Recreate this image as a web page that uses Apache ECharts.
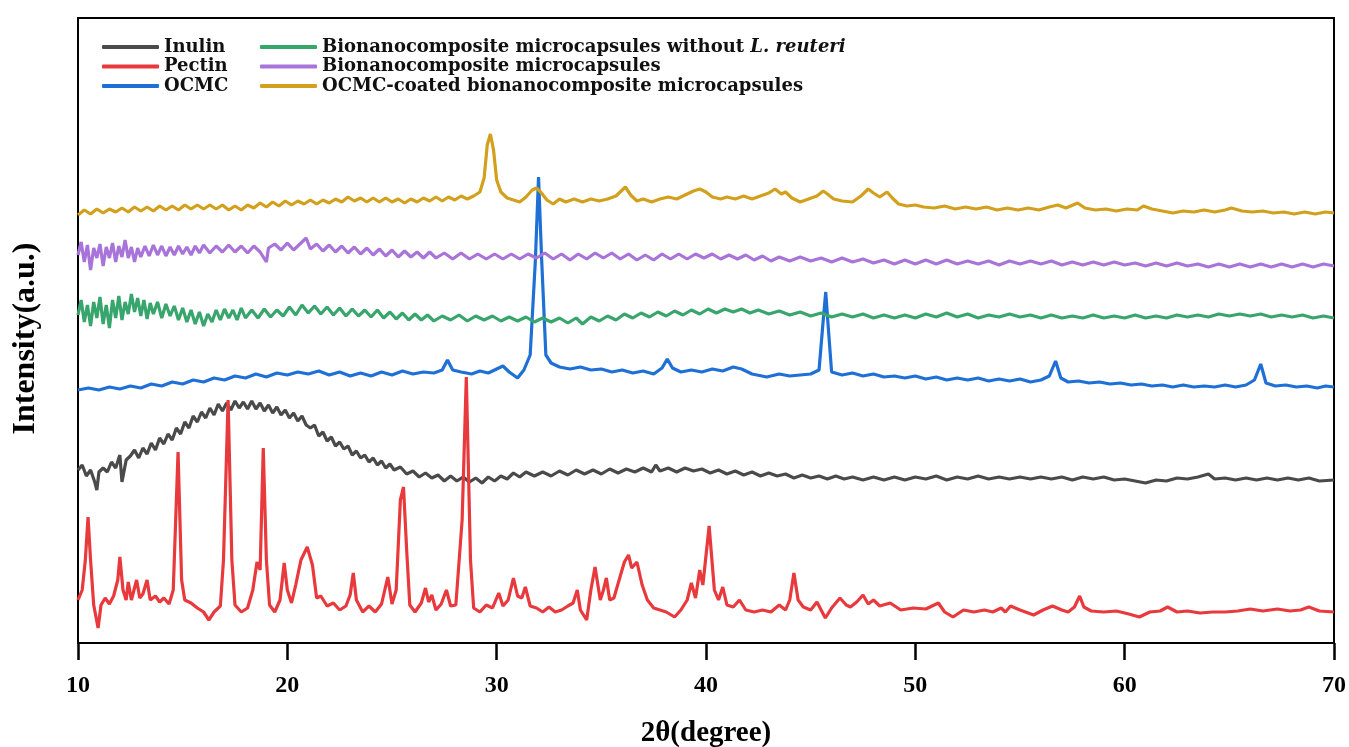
<!DOCTYPE html>
<html>
<head>
<meta charset="utf-8">
<title>XRD patterns</title>
<script src="https://cdn.jsdelivr.net/npm/echarts@6/dist/echarts.min.js"></script>
<style>
  html, body { margin: 0; padding: 0; background: #fff; }
  #main { width: 1349px; height: 747px; }
</style>
</head>
<body>
<div id="main"></div>
<script>
// x ticks (2θ, degree)
var xTicks = [10, 20, 30, 40, 50, 60, 70];

var seriesNames = ['Inulin', 'Pectin', 'OCMC',
  'Bionanocomposite microcapsules without L. reuteri',
  'Bionanocomposite microcapsules',
  'OCMC-coated bionanocomposite microcapsules'];

// intensities (a.u., stacked offsets)
var inulin = [[10.0,173],[10.2,178],[10.4,167],[10.6,173],[10.8,161],[10.9,153],[11.0,171],[11.2,175],[11.4,171],[11.6,181],[11.8,175],[12.0,188],[12.1,161],[12.3,183],[12.5,187],[12.7,193],[12.9,185],[13.1,195],[13.3,189],[13.5,200],[13.7,193],[13.9,205],[14.1,199],[14.3,209],[14.5,203],[14.7,215],[14.9,209],[15.1,221],[15.3,215],[15.5,227],[15.7,221],[15.9,231],[16.1,225],[16.3,235],[16.5,228],[16.7,239],[16.9,232],[17.1,240],[17.3,233],[17.5,242],[17.7,235],[17.9,241],[18.1,234],[18.3,242],[18.5,234],[18.7,240],[18.9,232],[19.1,238],[19.3,230],[19.5,236],[19.7,228],[19.9,233],[20.1,225],[20.3,230],[20.5,222],[20.7,227],[20.9,218],[21.1,215],[21.3,218],[21.5,207],[21.7,211],[21.9,202],[22.1,206],[22.3,197],[22.5,201],[22.7,194],[22.9,197],[23.1,188],[23.3,192],[23.5,185],[23.7,188],[23.9,181],[24.1,185],[24.3,178],[24.5,182],[24.7,175],[24.9,179],[25.1,173],[25.4,176],[25.7,169],[26.0,172],[26.3,166],[26.6,170],[26.9,165],[27.2,168],[27.5,162],[27.8,167],[28.1,162],[28.4,166],[28.7,161],[29.0,165],[29.3,160],[29.6,166],[29.9,162],[30.2,167],[30.5,164],[30.8,170],[31.1,166],[31.4,171],[31.8,167],[32.2,171],[32.6,167],[33.0,172],[33.4,168],[33.8,173],[34.2,169],[34.6,173],[35.0,169],[35.4,174],[35.8,170],[36.2,174],[36.6,171],[37.0,175],[37.4,171],[37.6,178],[37.8,172],[38.2,175],[38.6,171],[39.0,175],[39.4,172],[39.8,174],[40.2,170],[40.6,173],[41.0,169],[41.4,172],[41.8,168],[42.2,171],[42.6,167],[43.0,170],[43.4,167],[43.8,169],[44.2,165],[44.6,168],[45.0,165],[45.4,167],[45.8,164],[46.2,167],[46.6,164],[47.0,166],[47.5,163],[48.0,166],[48.5,163],[49.0,166],[49.5,163],[50.0,166],[50.5,164],[51.0,167],[51.5,163],[52.0,166],[52.5,164],[53.0,167],[53.5,164],[54.0,166],[54.5,164],[55.0,166],[55.5,164],[56.0,166],[56.5,164],[57.0,166],[57.5,163],[58.0,166],[58.5,164],[59.0,166],[59.5,163],[60.0,164],[60.5,162],[61.0,160],[61.5,163],[62.0,162],[62.5,165],[63.0,164],[63.5,166],[64.0,169],[64.3,164],[64.8,165],[65.3,163],[65.8,165],[66.3,163],[66.8,165],[67.3,163],[67.8,165],[68.3,163],[68.8,165],[69.3,162],[70.0,163]];

var pectin = [[10.0,43],[10.2,53],[10.35,83],[10.48,126],[10.6,83],[10.75,38],[10.96,15],[11.1,38],[11.3,45],[11.5,39],[11.7,47],[11.9,63],[12.0,86],[12.15,53],[12.3,43],[12.4,61],[12.55,43],[12.8,63],[12.95,45],[13.1,49],[13.3,63],[13.45,43],[13.7,47],[13.9,41],[14.1,45],[14.35,39],[14.55,53],[14.78,191],[14.95,63],[15.1,43],[15.4,40],[15.7,35],[16.0,31],[16.25,23],[16.5,31],[16.8,37],[16.95,83],[17.17,243],[17.35,83],[17.5,38],[17.8,31],[18.1,35],[18.35,53],[18.55,81],[18.7,73],[18.85,195],[19.0,83],[19.15,38],[19.4,31],[19.65,43],[19.85,80],[20.0,53],[20.2,40],[20.4,58],[20.65,83],[20.95,96],[21.2,78],[21.4,45],[21.6,47],[21.9,37],[22.2,40],[22.5,33],[22.8,37],[23.0,48],[23.15,70],[23.3,43],[23.6,31],[23.9,37],[24.2,31],[24.5,39],[24.8,66],[25.0,39],[25.2,53],[25.4,143],[25.55,156],[25.7,93],[25.85,38],[26.1,31],[26.4,40],[26.6,55],[26.75,41],[26.9,48],[27.1,33],[27.35,39],[27.6,53],[27.8,37],[28.05,38],[28.35,123],[28.55,266],[28.75,83],[28.9,35],[29.2,31],[29.5,38],[29.8,35],[30.1,50],[30.3,37],[30.55,43],[30.8,65],[31.0,47],[31.2,45],[31.37,56],[31.6,37],[31.9,35],[32.2,31],[32.5,36],[32.8,31],[33.1,33],[33.4,37],[33.65,40],[33.85,53],[34.0,33],[34.3,23],[34.5,53],[34.7,76],[34.95,43],[35.1,53],[35.24,65],[35.4,43],[35.6,45],[35.85,63],[36.1,81],[36.3,88],[36.45,75],[36.7,81],[36.95,58],[37.2,43],[37.5,35],[37.8,33],[38.1,31],[38.5,26],[38.8,33],[39.1,43],[39.3,60],[39.5,45],[39.7,73],[39.85,58],[40.15,117],[40.4,53],[40.6,43],[40.8,56],[41.0,38],[41.3,36],[41.6,43],[41.9,33],[42.3,31],[42.7,33],[43.1,31],[43.5,38],[43.8,33],[44.0,43],[44.2,70],[44.4,43],[44.65,36],[45.0,33],[45.3,41],[45.5,33],[45.7,25],[46.0,35],[46.4,45],[46.7,38],[46.9,36],[47.2,41],[47.5,48],[47.75,39],[48.0,43],[48.3,37],[48.8,40],[49.3,33],[49.9,35],[50.5,34],[51.1,40],[51.4,31],[51.8,26],[52.3,33],[52.8,31],[53.3,33],[53.7,31],[54.1,35],[54.3,31],[54.55,37],[55.0,33],[55.65,28],[56.1,33],[56.55,37],[57.0,33],[57.3,31],[57.6,36],[57.85,47],[58.05,36],[58.4,32],[59.0,31],[59.6,32],[60.2,29],[60.7,26],[61.2,31],[61.7,32],[62.05,36],[62.5,31],[63.0,32],[63.6,30],[64.2,31],[64.8,31],[65.4,32],[66.0,34],[66.6,32],[67.3,34],[67.9,32],[68.4,33],[68.8,36],[69.3,32],[70.0,31]];

var ocmc = [[10.0,253],[10.5,255],[11.0,253],[11.5,256],[12.0,254],[12.5,257],[13.0,255],[13.5,259],[14.0,257],[14.5,261],[15.0,259],[15.5,263],[16.0,261],[16.5,265],[17.0,263],[17.5,267],[18.0,265],[18.5,269],[19.0,266],[19.5,270],[20.0,268],[20.5,271],[21.0,269],[21.5,272],[22.0,268],[22.5,271],[23.0,267],[23.5,270],[24.0,267],[24.5,271],[25.0,268],[25.5,272],[26.0,269],[26.5,271],[27.0,270],[27.4,273],[27.65,283],[27.9,273],[28.3,271],[28.8,269],[29.2,272],[29.6,270],[30.0,274],[30.3,277],[30.6,271],[31.0,265],[31.3,273],[31.6,288],[31.85,383],[32.0,466],[32.15,383],[32.35,288],[32.6,280],[33.0,276],[33.5,274],[34.0,276],[34.5,273],[35.0,274],[35.5,271],[36.0,273],[36.5,270],[37.0,272],[37.5,269],[37.9,275],[38.15,284],[38.4,275],[38.8,271],[39.3,273],[39.8,271],[40.3,274],[40.8,272],[41.3,276],[41.7,274],[42.2,269],[42.9,266],[43.5,269],[44.0,267],[44.5,268],[45.0,269],[45.4,273],[45.6,323],[45.72,351],[45.85,313],[46.0,271],[46.5,268],[47.0,270],[47.5,267],[48.0,269],[48.5,266],[49.0,267],[49.5,265],[50.0,267],[50.5,264],[51.0,266],[51.5,263],[52.0,265],[52.5,263],[53.0,265],[53.5,262],[54.0,264],[54.5,262],[55.0,264],[55.5,261],[56.0,263],[56.4,267],[56.7,282],[56.95,265],[57.3,261],[57.8,262],[58.3,260],[58.8,261],[59.3,259],[59.8,260],[60.3,258],[60.8,259],[61.3,257],[61.8,258],[62.3,256],[62.8,258],[63.3,256],[63.8,257],[64.3,256],[64.8,258],[65.3,256],[65.8,258],[66.2,263],[66.5,279],[66.75,260],[67.2,257],[67.7,258],[68.2,256],[68.7,257],[69.2,255],[69.6,257],[70.0,256]];

var bncNoLr = [[10.0,328],[10.15,343],[10.3,321],[10.45,338],[10.6,317],[10.75,341],[10.9,325],[11.05,346],[11.2,319],[11.35,338],[11.5,315],[11.65,343],[11.8,325],[11.95,347],[12.1,323],[12.25,341],[12.4,329],[12.55,349],[12.7,331],[12.85,345],[13.0,327],[13.15,343],[13.3,324],[13.45,340],[13.6,329],[13.8,341],[14.0,325],[14.2,339],[14.4,327],[14.6,337],[14.8,323],[15.0,335],[15.2,321],[15.4,333],[15.6,319],[15.8,331],[16.0,317],[16.2,329],[16.4,321],[16.6,333],[16.8,323],[17.0,334],[17.2,325],[17.4,333],[17.6,323],[17.8,335],[18.0,325],[18.3,333],[18.6,325],[18.9,334],[19.2,326],[19.5,333],[19.8,327],[20.1,336],[20.4,328],[20.7,338],[21.0,330],[21.3,337],[21.6,329],[21.9,336],[22.2,328],[22.5,335],[22.8,327],[23.1,334],[23.4,327],[23.7,333],[24.0,326],[24.3,333],[24.6,325],[24.9,331],[25.2,324],[25.5,330],[25.8,323],[26.1,329],[26.4,323],[26.7,328],[27.0,322],[27.4,327],[27.8,323],[28.2,328],[28.6,322],[29.0,327],[29.4,323],[29.8,327],[30.2,322],[30.6,326],[31.0,322],[31.4,326],[31.8,321],[32.2,325],[32.6,321],[33.0,325],[33.4,320],[33.8,325],[34.1,319],[34.5,326],[34.9,322],[35.3,327],[35.7,323],[36.1,329],[36.5,325],[36.9,330],[37.3,326],[37.7,331],[38.1,327],[38.5,332],[38.9,328],[39.3,333],[39.7,329],[40.1,334],[40.5,330],[40.9,334],[41.3,331],[41.7,334],[42.1,330],[42.5,333],[43.0,329],[43.5,332],[44.0,328],[44.5,331],[45.0,327],[45.5,330],[46.0,326],[46.5,329],[47.0,326],[47.5,329],[48.0,325],[48.5,328],[49.0,325],[49.5,328],[50.0,325],[50.5,329],[51.0,326],[51.5,330],[52.0,326],[52.5,329],[53.0,325],[53.5,328],[54.0,326],[54.5,329],[55.0,326],[55.5,328],[56.0,325],[56.5,328],[57.0,325],[57.5,327],[58.0,325],[58.5,328],[59.0,325],[59.5,327],[60.0,325],[60.5,328],[61.0,325],[61.5,327],[62.0,325],[62.5,328],[63.0,326],[63.5,328],[64.0,326],[64.5,329],[65.0,327],[65.5,329],[66.0,327],[66.5,329],[67.0,326],[67.5,328],[68.0,326],[68.5,328],[69.0,325],[69.5,327],[70.0,325]];

var bnc = [[10.0,388],[10.15,401],[10.3,381],[10.45,398],[10.6,373],[10.75,395],[10.9,385],[11.05,399],[11.2,377],[11.35,396],[11.5,385],[11.65,400],[11.8,381],[11.95,397],[12.1,386],[12.25,403],[12.4,385],[12.55,396],[12.7,381],[12.85,395],[13.0,386],[13.2,397],[13.4,387],[13.6,398],[13.8,388],[14.0,397],[14.2,387],[14.4,396],[14.6,388],[14.8,397],[15.0,389],[15.2,396],[15.4,388],[15.6,397],[15.8,390],[16.0,398],[16.3,390],[16.6,397],[16.9,391],[17.2,398],[17.5,391],[17.8,397],[18.1,390],[18.4,397],[18.7,391],[19.0,381],[19.1,395],[19.4,399],[19.7,393],[20.0,400],[20.3,393],[20.6,399],[20.9,405],[21.1,394],[21.4,399],[21.7,392],[22.0,398],[22.3,391],[22.6,397],[22.9,390],[23.2,396],[23.5,389],[23.8,395],[24.1,388],[24.4,394],[24.7,387],[25.0,393],[25.3,386],[25.6,392],[25.9,386],[26.2,391],[26.5,385],[26.8,391],[27.1,385],[27.5,390],[27.9,384],[28.3,390],[28.7,384],[29.1,389],[29.5,384],[29.9,389],[30.3,384],[30.7,389],[31.1,384],[31.5,389],[31.9,385],[32.3,390],[32.7,384],[33.1,389],[33.5,383],[33.9,389],[34.3,384],[34.7,390],[35.1,385],[35.5,390],[35.9,384],[36.3,389],[36.7,383],[37.1,388],[37.5,383],[37.9,389],[38.3,384],[38.7,389],[39.1,384],[39.5,389],[39.9,385],[40.3,389],[40.7,384],[41.1,388],[41.5,384],[41.9,388],[42.3,383],[42.7,387],[43.1,382],[43.5,386],[44.0,382],[44.5,386],[45.0,382],[45.5,385],[46.0,381],[46.5,385],[47.0,381],[47.5,384],[48.0,380],[48.5,383],[49.0,379],[49.5,383],[50.0,379],[50.5,383],[51.0,379],[51.5,383],[52.0,379],[52.5,382],[53.0,379],[53.5,382],[54.0,378],[54.5,382],[55.0,379],[55.5,382],[56.0,379],[56.5,382],[57.0,378],[57.5,381],[58.0,378],[58.5,381],[59.0,378],[59.5,381],[60.0,378],[60.5,380],[61.0,377],[61.5,380],[62.0,377],[62.5,380],[63.0,377],[63.5,379],[64.0,376],[64.5,379],[65.0,376],[65.5,379],[66.0,376],[66.5,379],[67.0,376],[67.5,379],[68.0,376],[68.5,379],[69.0,376],[69.5,379],[70.0,377]];

var bncCoated = [[10.0,428],[10.3,433],[10.6,429],[10.9,434],[11.2,430],[11.5,434],[11.8,431],[12.1,435],[12.4,431],[12.7,436],[13.0,432],[13.3,436],[13.6,432],[13.9,437],[14.2,433],[14.5,437],[14.8,433],[15.1,438],[15.4,434],[15.7,438],[16.0,434],[16.3,438],[16.6,434],[16.9,438],[17.2,433],[17.5,437],[17.8,433],[18.1,438],[18.4,435],[18.7,440],[19.0,436],[19.3,441],[19.6,437],[19.9,442],[20.2,438],[20.5,442],[20.8,439],[21.1,443],[21.4,439],[21.7,443],[22.0,440],[22.3,444],[22.6,441],[22.9,446],[23.2,442],[23.5,445],[23.8,441],[24.1,445],[24.4,441],[24.7,445],[25.0,441],[25.3,444],[25.6,440],[25.9,444],[26.2,441],[26.5,445],[26.8,442],[27.1,446],[27.4,442],[27.7,446],[28.0,443],[28.3,447],[28.6,444],[28.9,447],[29.2,451],[29.4,465],[29.55,498],[29.7,509],[29.85,493],[30.0,463],[30.2,451],[30.5,445],[30.8,443],[31.1,441],[31.4,446],[31.7,453],[31.9,455],[32.1,451],[32.4,443],[32.7,439],[33.0,444],[33.3,441],[33.7,444],[34.1,441],[34.5,444],[34.9,442],[35.3,444],[35.7,447],[35.95,452],[36.15,456],[36.4,448],[36.7,442],[37.0,444],[37.4,441],[37.8,444],[38.2,446],[38.6,444],[39.0,448],[39.4,452],[39.7,454],[40.0,451],[40.3,446],[40.7,444],[41.0,446],[41.4,444],[41.8,447],[42.2,444],[42.6,447],[43.0,450],[43.3,454],[43.6,449],[43.8,451],[44.1,445],[44.5,441],[44.9,444],[45.3,447],[45.6,452],[45.8,449],[46.1,444],[46.5,442],[47.0,441],[47.4,447],[47.75,454],[48.0,450],[48.3,446],[48.65,451],[48.9,445],[49.2,439],[49.6,437],[50.0,438],[50.4,436],[50.9,435],[51.4,437],[51.9,434],[52.4,436],[52.9,434],[53.4,436],[53.9,433],[54.4,435],[54.9,433],[55.4,435],[55.9,433],[56.4,436],[56.8,438],[57.2,435],[57.75,440],[58.1,435],[58.6,433],[59.1,434],[59.6,432],[60.1,434],[60.6,433],[60.9,437],[61.3,434],[61.8,432],[62.3,430],[62.8,432],[63.3,431],[63.8,433],[64.3,431],[64.8,433],[65.1,435],[65.6,432],[66.1,431],[66.6,432],[67.1,430],[67.6,431],[68.1,429],[68.6,431],[69.1,429],[69.6,431],[70.0,430]];

var colors = ['#4a4a4a', '#e8393d', '#1e6fd6', '#37a56c', '#a874da', '#d2a01c'];

var serif = 'Liberation Serif, Times New Roman, serif';
var legendFont = 'DejaVu Serif, Liberation Serif, serif';

var chart = echarts.init(document.getElementById('main'));

function legendFmt(name) {
  var k = name.indexOf('L. reuteri');
  if (k < 0) return '{b|' + name + '}';
  return '{b|' + name.slice(0, k) + '}{i|L. reuteri}';
}

var legendText = {
  color: '#111',
  fontFamily: legendFont,
  fontWeight: 'bold',
  fontSize: 18,
  lineHeight: 18,
  rich: {
    b: { fontFamily: legendFont, fontWeight: 'bold', fontSize: 18, color: '#111' },
    i: { fontFamily: legendFont, fontWeight: 'bold', fontStyle: 'italic', fontSize: 18, color: '#111' }
  }
};

var data = [inulin, pectin, ocmc, bncNoLr, bnc, bncCoated];
// draw order: grey, blue, red, green, purple, yellow
var drawOrder = [0, 2, 1, 3, 4, 5];

var option = {
  animation: false,
  backgroundColor: '#fff',
  color: colors,
  grid: {
    left: 78,
    right: 15,
    top: 18,
    bottom: 104,
    outerBoundsMode: 'none',
    show: true,
    borderColor: '#000',
    borderWidth: 2,
    backgroundColor: 'transparent'
  },
  legend: [{
    data: seriesNames.slice(0, 3),
    orient: 'vertical',
    left: 97,
    top: 33,
    icon: 'roundRect',
    itemWidth: 57,
    itemHeight: 4,
    itemGap: 1.5,
    formatter: legendFmt,
    textStyle: legendText
  }, {
    data: seriesNames.slice(3),
    orient: 'vertical',
    left: 255,
    top: 33,
    icon: 'roundRect',
    itemWidth: 57,
    itemHeight: 4,
    itemGap: 1.5,
    formatter: legendFmt,
    textStyle: legendText
  }],
  xAxis: {
    type: 'value',
    min: xTicks[0],
    max: xTicks[xTicks.length - 1],
    interval: 10,
    name: '2θ(degree)',
    nameLocation: 'middle',
    nameGap: 76,
    nameTextStyle: { color: '#000', fontFamily: serif, fontWeight: 'bold', fontSize: 29 },
    axisLine: { show: true, onZero: false, lineStyle: { color: '#000', width: 2 } },
    axisTick: { show: true, inside: false, length: 17, lineStyle: { color: '#000', width: 2.5 } },
    axisLabel: { color: '#000', fontFamily: serif, fontWeight: 'bold', fontSize: 24, margin: 31 },
    splitLine: { show: false }
  },
  yAxis: {
    type: 'value',
    min: 0,
    max: 625,
    name: 'Intensity(a.u.)',
    nameLocation: 'middle',
    nameGap: 36,
    nameTextStyle: { color: '#000', fontFamily: serif, fontWeight: 'bold', fontSize: 32, padding: [0, 16, 0, 0] },
    axisLine: { show: true, lineStyle: { color: '#000', width: 2 } },
    axisTick: { show: false },
    axisLabel: { show: false },
    splitLine: { show: false }
  },
  series: drawOrder.map(function (i) {
    return {
      name: seriesNames[i],
      type: 'line',
      data: data[i],
      symbol: 'none',
      showSymbol: false,
      color: colors[i],
      lineStyle: { width: 3.2, color: colors[i] },
      itemStyle: { color: colors[i] }
    };
  })
};

chart.setOption(option);
</script>
</body>
</html>
